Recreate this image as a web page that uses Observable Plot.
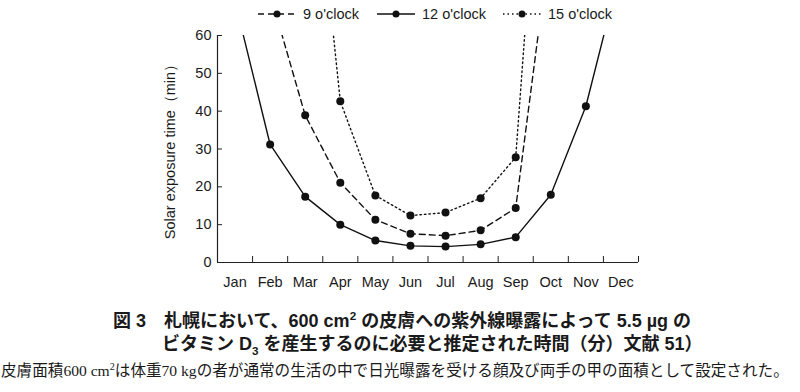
<!DOCTYPE html>
<html><head><meta charset="utf-8">
<script src="https://cdn.jsdelivr.net/npm/d3@7"></script>
<script src="https://cdn.jsdelivr.net/npm/@observablehq/plot@0.6"></script>
<style>
body{margin:0;background:#fff;width:800px;height:392px;overflow:hidden;font-family:"Liberation Sans",Arial,sans-serif;color:#1a1a1a;}
#legend{height:28px;position:relative;font-size:14.5px;}
.item{position:absolute;top:6px;display:flex;align-items:center;}
.item svg{margin-right:7px;}
#chart{height:264px;}
.cap{position:absolute;font-family:"Liberation Sans","Noto Sans CJK JP",sans-serif;font-weight:bold;font-size:18px;white-space:nowrap;}
.note{position:absolute;font-family:"Liberation Serif","Noto Sans CJK JP",serif;font-size:15.6px;white-space:nowrap;}
sup,sub{font-size:65%;line-height:0;}
</style></head><body>
<div id="legend"></div>
<div id="chart"></div>
<div class="cap" style="left:113px;top:306px;">図 3　札幌において、600 cm<sup>2</sup> の皮膚への紫外線曝露によって 5.5 µg の</div>
<div class="cap" style="left:162px;top:329px;">ビタミン D<sub>3</sub> を産生するのに必要と推定された時間（分）文献 51）</div>
<div class="note" style="left:1px;top:358px;">皮膚面積600 cm<sup>2</sup>は体重70 kgの者が通常の生活の中で日光曝露を受ける顔及び両手の甲の面積として設定された。</div>
<script>
const months = ["Jan","Feb","Mar","Apr","May","Jun","Jul","Aug","Sep","Oct","Nov","Dec"];
const seriesNames = ["9 o'clock","12 o'clock","15 o'clock"];
const nine  = [null, 71, 38.9, 21.1, 11.3, 7.6, 7.1, 8.5, 14.4, 86, null, null];
const noon  = [69, 31.2, 17.4, 10.0, 5.8, 4.4, 4.2, 4.8, 6.7, 17.9, 41.3, 78];
const three = [null, null, 132, 42.6, 17.7, 12.4, 13.2, 17.0, 27.8, 154, null, null];
const yTicks = [0,10,20,30,40,50,60];
const dashes = ["6,4", null, "1.5,3"];

const table = [nine, noon, three].map((vals, s) =>
  vals.map((v, i) => ({series: seriesNames[s], m: i + 0.5, v})).filter(d => d.v != null));

const lineMarks = table.map((rows, s) =>
  Plot.line(rows, {x: "m", y: "v", stroke: "#111", strokeWidth: 1.4, strokeDasharray: dashes[s], clip: true}));
const dotMarks = table.map(rows =>
  Plot.dot(rows, {x: "m", y: "v", r: 4, fill: "#111", clip: true}));

const plot = Plot.plot({
  width: 800, height: 264,
  marginTop: 7, marginBottom: 30, marginLeft: 217, marginRight: 162,
  x: {domain: [0, 12]},
  y: {domain: [0, 60]},
  style: {fontFamily: "Liberation Sans, Arial, sans-serif", fontSize: "14.5px", color: "#1a1a1a", background: "white"},
  marks: [
    Plot.axisX({ticks: d3.range(13), tickSize: -6, tickFormat: () => "", label: null, stroke: "#222"}),
    Plot.axisX({ticks: months.map((m, i) => i + 0.5), tickSize: 0, tickPadding: 14, tickFormat: d => months[Math.floor(d)], label: null}),
    Plot.axisY({ticks: yTicks, tickSize: -5, tickPadding: 11, label: null, stroke: "#222"}),
    Plot.ruleX([0], {stroke: "#222", strokeWidth: 1.2}),
    Plot.ruleY([0], {stroke: "#222", strokeWidth: 1.2}),
    Plot.text(["Solar exposure time（min）"], {frameAnchor: "left", textAnchor: "middle", rotate: -90, dx: -47, dy: -1, fontSize: 14.5}),
    ...lineMarks,
    ...dotMarks
  ]
});
document.getElementById("chart").appendChild(plot);

// legend
const legend = document.getElementById("legend");
const lefts = [258, 377, 503];
seriesNames.forEach((name, s) => {
  const item = document.createElement("div");
  item.className = "item";
  item.style.left = lefts[s] + "px";
  const sw = d3.create("svg").attr("width", 38).attr("height", 12);
  sw.append("line").attr("x1", 0).attr("x2", 38).attr("y1", 6).attr("y2", 6)
    .attr("stroke", "#111").attr("stroke-width", 1.4).attr("stroke-dasharray", dashes[s]);
  sw.append("circle").attr("cx", 19).attr("cy", 6).attr("r", 3.5).attr("fill", "#111");
  item.appendChild(sw.node());
  const t = document.createElement("span");
  t.textContent = name;
  item.appendChild(t);
  legend.appendChild(item);
});
</script>
</body></html>
